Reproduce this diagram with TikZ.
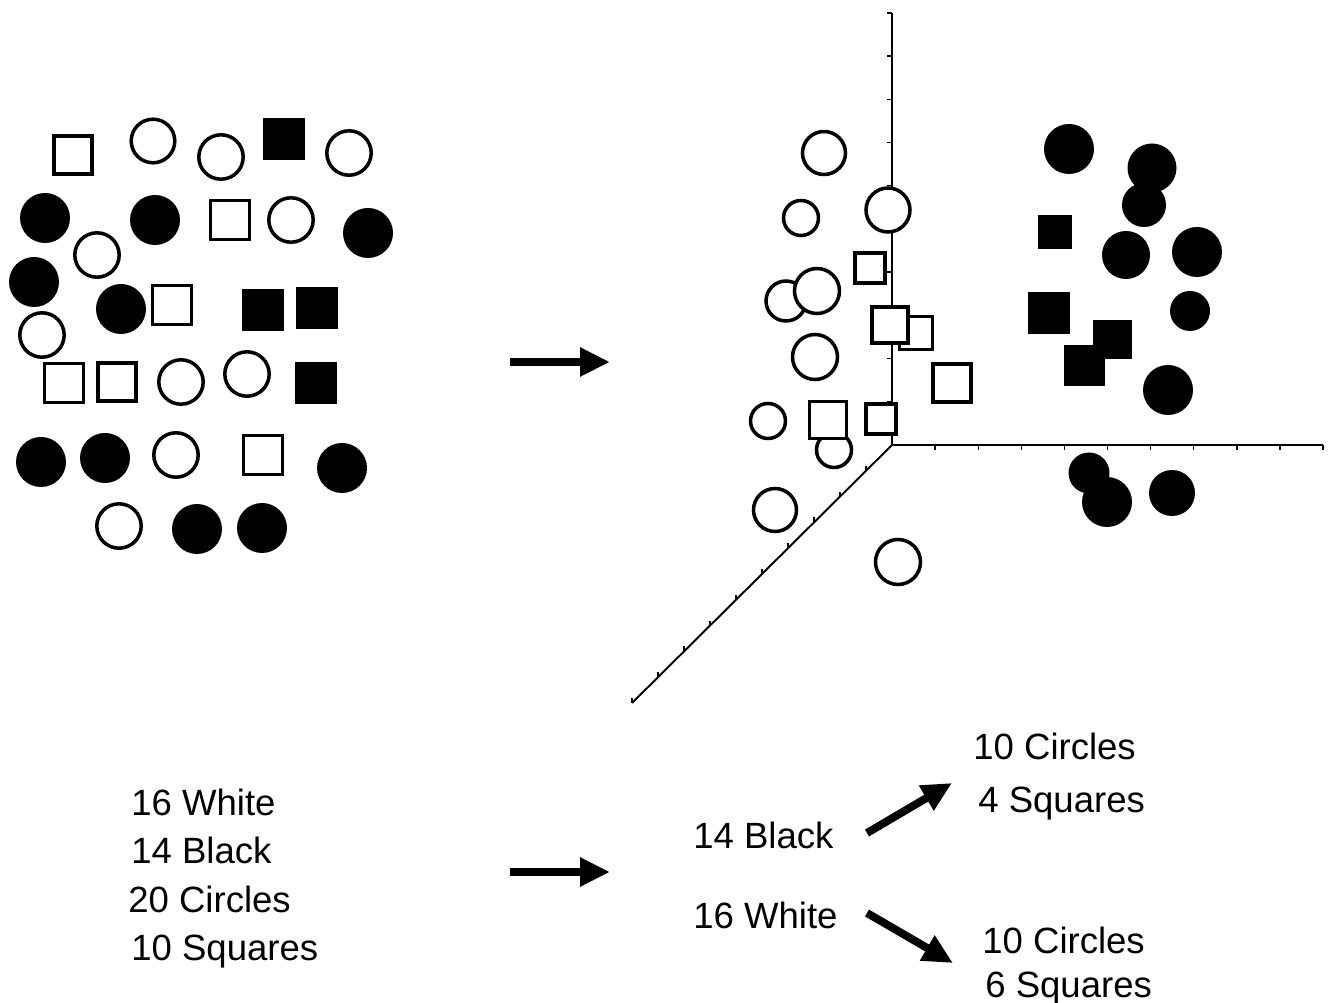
\documentclass[tikz,border=0pt]{standalone}
\usepackage{fontspec}
\setmainfont{Liberation Sans}
\usetikzlibrary{arrows.meta,positioning}
\tikzset{
    wshape/.style={draw=black, fill=white, line width=2pt},
    bshape/.style={fill=black},
    axisline/.style={line width=1.1pt, black},
    axistick/.style={line width=0.8pt, black},
    bigarrow/.style={line width=4.5pt, -{Triangle[length=17pt, width=15.5pt]}},
    txt/.style={font=\fontsize{20.8}{25}\selectfont, inner sep=0pt, anchor=base west},
}

\begin{document}
\begin{tikzpicture}[x=0.02cm, y=-0.02cm]
    \useasboundingbox (0,0) rectangle (1330,1003);

    % Mixed set (left)
    \foreach \x/\y/\r in {153/141/21.8, 221/157/22.2, 349/153/22.2, 291/220/22.2, 97/255/22.2,
                          42/335/22.2, 181/382/22.2, 247/374/22.2, 176/455/22.2, 119/526/22.2}
        \draw[wshape] (\x,\y) circle[radius=\r];
    \foreach \x/\y/\s in {73/155/38, 230/220/39, 172/305/39, 64/383/39, 117/382/38, 263/455/39}
        \draw[wshape] ({\x-\s/2},{\y-\s/2}) rectangle ++(\s,\s);
    \foreach \x/\y in {45/218, 155/220, 368/233, 34/282, 121/309, 41/462, 105/458, 342/468, 197/529, 262/528}
        \fill[bshape] (\x,\y) circle[radius=25];
    \foreach \x/\y in {284/139, 263/310, 317/308, 316/383}
        \fill[bshape] ({\x-21},{\y-21}) rectangle ++(42,42);

    % Axes
    \coordinate (O) at (892,445);
    \coordinate (ztop) at (892,13);
    \coordinate (xend) at (1323,445);
    \coordinate (yend) at (632,703);
    \draw[axisline] (ztop) -- (O) -- (xend);
    \draw[axisline] (O) -- (yend);
    \foreach \k in {1,...,10} {
        \draw[axistick] ({892+43.1*\k},445) -- ++(0,5);
        \draw[axistick] (892,{445-43.2*\k}) -- ++(-5,0);
        \draw[axistick] ({892-26*\k},{445+25.8*\k}) -- ++(0,-5);
    }

    % Sorted set (right)
    \foreach \x/\y/\r in {824/153/21.5, 801/218/17.5, 888/210/22, 786/301/20, 817/291/22.5,
                          815/357/22.5, 768/421/17.5, 834/450/17.5, 775/510/21.5, 898/562/22.5}
        \draw[wshape] (\x,\y) circle[radius=\r];
    \foreach \x/\y/\s in {870/268/30, 916/333/33, 890/325/36, 952/383/38, 828/420/37, 881/419/30}
        \draw[wshape] ({\x-\s/2},{\y-\s/2}) rectangle ++(\s,\s);
    \foreach \x/\y/\r in {1069/149/25, 1152/168/24.5, 1144/205/22, 1126/255/24, 1197/252/25,
                          1190/311/20, 1168/390/25, 1089/473/20.5, 1107/502/25, 1172/493/23}
        \fill[bshape] (\x,\y) circle[radius=\r];
    \foreach \x/\y/\s in {1055/232/34, 1049/313/42, 1112/340/39, 1084/366/41}
        \fill[bshape] ({\x-\s/2},{\y-\s/2}) rectangle ++(\s,\s);

    % Counts
    \node[txt] (white) at (131,815) {16 White};
    \node[txt] (black) at (131,863) {14 Black};
    \node[txt] (circles) at (128,912) {20 Circles};
    \node[txt] (squares) at (131,960) {10 Squares};

    \node[txt] (blackR) at (693,848) {14 Black};
    \node[txt] (whiteR) at (693,928) {16 White};
    \node[txt] (bcirc) at (973,760) {10 Circles};
    \node[txt] (bsq) at (978,812) {4 Squares};
    \node[txt] (wcirc) at (982,953) {10 Circles};
    \node[txt] (wsq) at (985,997) {6 Squares};

    % Arrows
    \coordinate (mixS) at (510,362);
    \coordinate (mixE) at (610,362);
    \coordinate (sumS) at (510,872);
    \coordinate (sumE) at (610,872);
    \coordinate (upS) at (867,833);
    \coordinate (upE) at (952,783);
    \coordinate (dnS) at (867,913);
    \coordinate (dnE) at (953,963);
    \draw[bigarrow] (mixS) -- (mixE);
    \draw[bigarrow] (sumS) -- (sumE);
    \draw[bigarrow] (upS) -- (upE);
    \draw[bigarrow] (dnS) -- (dnE);
\end{tikzpicture}
\end{document}
